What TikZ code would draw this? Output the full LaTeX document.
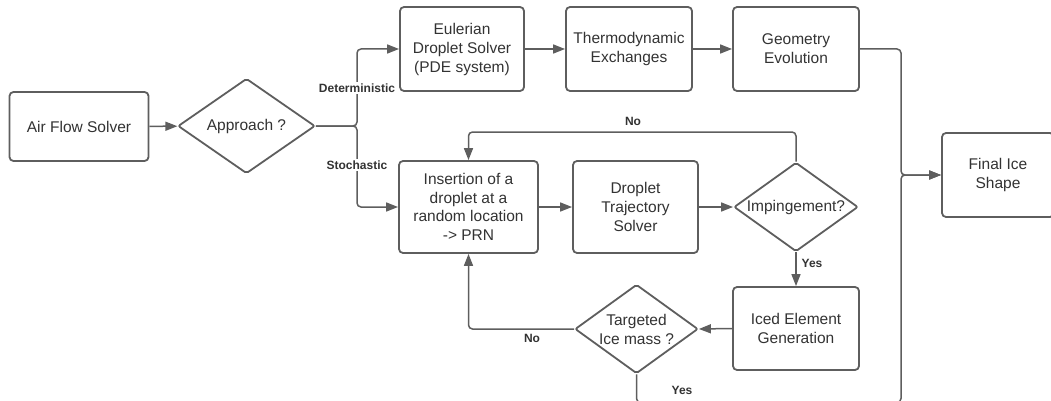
\documentclass[tikz,border=0pt]{standalone}
\usepackage{fontspec}
\setmainfont{Liberation Sans}
\usetikzlibrary{arrows.meta,shapes.geometric}
\definecolor{ln}{HTML}{5E5E5E}
\definecolor{tx}{HTML}{333333}
\begin{document}
\begin{tikzpicture}[x=1pt,y=-1pt,
 box/.style={draw=ln, line width=1.8pt, rounded corners=4pt, fill=white, text=tx, align=center, inner sep=0pt, font=\fontsize{15.5}{19}\selectfont},
 dia/.style={diamond, aspect=1.4, draw=ln, line width=1.8pt, rounded corners=2pt, fill=white, text=tx, align=center, inner sep=0pt, font=\fontsize{15.5}{19}\selectfont},
 conn/.style={draw=ln, line width=1.5pt, rounded corners=4pt},
 arr/.style={conn, -{Triangle[length=12pt,width=9pt]}},
 lbl/.style={text=tx, font=\bfseries\fontsize{12}{14}\selectfont, inner sep=1.5pt}]
\useasboundingbox (0,0) rectangle (1051,401);

\node[box, minimum width=139pt, minimum height=69pt] (air) at (79,126.5) {Air Flow Solver};
\node[dia, minimum width=137pt, minimum height=95pt] (app) at (246.5,126) {Approach ?};
\node[box, minimum width=124pt, minimum height=84pt] (eul) at (462,49) {Eulerian\\Droplet Solver\\(PDE system)};
\node[box, minimum width=126pt, minimum height=84pt] (thermo) at (629,49) {Thermodynamic\\Exchanges};
\node[box, minimum width=126pt, minimum height=84pt] (geo) at (796,49) {Geometry\\Evolution};
\node[box, minimum width=112pt, minimum height=84pt] (final) at (998,175) {Final Ice\\Shape};
\node[box, minimum width=139pt, minimum height=92pt, font=\fontsize{15.5}{18.5}\selectfont] (ins) at (468.5,207) {Insertion of a\\droplet at a\\random location\\-> PRN};
\node[box, minimum width=125pt, minimum height=92pt] (traj) at (635.5,207) {Droplet\\Trajectory\\Solver};
\node[dia, minimum width=124pt, minimum height=89pt] (imp) at (796,207) {Impingement?};
\node[box, minimum width=126pt, minimum height=83pt] (iced) at (796,328.5) {Iced Element\\Generation};
\node[dia, minimum width=123pt, minimum height=89pt] (tgt) at (636.5,329) {Targeted\\Ice mass ?};

\coordinate (br) at (357,126);
\draw[arr] (air) -- (app);
\draw[arr] (app.east) -- (br) |- (eul.west);
\draw[arr] (app.east) -- (br) |- (ins.west);
\node[lbl, fill=white] (det) at (357,88) {Deterministic};
\node[lbl, fill=white] (sto) at (357,165) {Stochastic};

\draw[arr] (eul) -- (thermo);
\draw[arr] (thermo) -- (geo);

\coordinate (jn) at (901,175);
\coordinate (bl) at (636.5,402.5);
\coordinate (bx) at (901,402.5);
\draw[arr] (geo.east) -| (jn) -- (final.west);
\draw[arr] (tgt.south) -- (bl) -- (bx) -- (jn) -- (final.west);
\node[lbl] (yes2) at (682,390) {Yes};

\draw[arr] (ins) -- (traj);
\draw[arr] (traj) -- (imp);
\coordinate (n1) at (796,132);
\coordinate (n2) at (468.5,132);
\draw[arr] (imp.north) -- (n1) -- (n2) -- (ins.north);
\node[lbl] (no1) at (633,121) {No};
\draw[arr] (imp.south) -- (iced.north);
\node[lbl] (yes1) at (812,263) {Yes};
\draw[arr] (iced.west) -- (tgt.east);
\draw[arr] (tgt.west) -| (ins.south);
\node[lbl] (no2) at (532,338) {No};
\end{tikzpicture}
\end{document}
